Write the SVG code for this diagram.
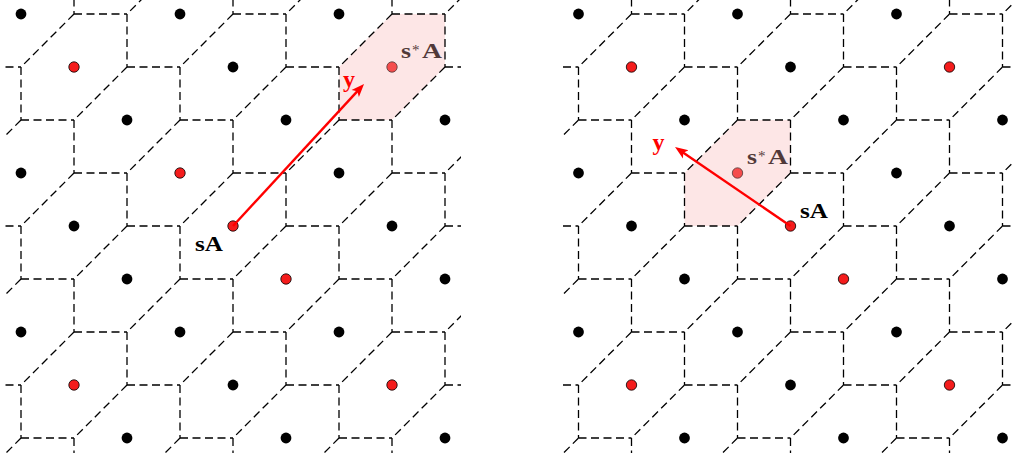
<svg xmlns="http://www.w3.org/2000/svg" width="1014" height="463" viewBox="0 0 1014 463">
<style>
.grid{fill:none;stroke:#000;stroke-width:1.3;stroke-dasharray:8 4.5}
.pt{fill:#000}
.rpt{fill:#f41c1c;stroke:#000;stroke-width:0.8}
.cell{fill:#f8b1b1;fill-opacity:0.32;stroke:none}
.vec{stroke:#f00;stroke-width:2.4;fill:none;marker-end:url(#ah)}
.lbl{font-family:"Liberation Serif","DejaVu Serif",serif;font-weight:bold;fill:#000;font-size:20px}
.ylbl{font-family:"Liberation Serif","DejaVu Serif",serif;font-weight:bold;fill:#f00;font-size:24px}
</style>
<defs>
<clipPath id="clipL"><rect x="5" y="-1" width="456" height="454"/></clipPath>
<clipPath id="clipR"><rect x="563" y="-1" width="451" height="454"/></clipPath>
<marker id="ah" markerUnits="userSpaceOnUse" markerWidth="14" markerHeight="12" viewBox="0 -6 14 12" refX="6" refY="0" orient="auto"><path d="M0,-5 L13,0 L0,5 L3,0z" fill="#f00"/></marker>
<path id="ce" d="M0,-53h53M53,-53v53M53,0l-53,53"/>
<g id="gridCells">
<use href="#ce" x="-32" y="-39"/><use href="#ce" x="127" y="-39"/><use href="#ce" x="286" y="-39"/><use href="#ce" x="445" y="-39"/>
<use href="#ce" x="21" y="14"/><use href="#ce" x="180" y="14"/><use href="#ce" x="339" y="14"/>
<use href="#ce" x="74" y="67"/><use href="#ce" x="233" y="67"/><use href="#ce" x="392" y="67"/>
<use href="#ce" x="-32" y="120"/><use href="#ce" x="127" y="120"/><use href="#ce" x="286" y="120"/><use href="#ce" x="445" y="120"/>
<use href="#ce" x="21" y="173"/><use href="#ce" x="180" y="173"/><use href="#ce" x="339" y="173"/>
<use href="#ce" x="74" y="226"/><use href="#ce" x="233" y="226"/><use href="#ce" x="392" y="226"/>
<use href="#ce" x="-32" y="279"/><use href="#ce" x="127" y="279"/><use href="#ce" x="286" y="279"/><use href="#ce" x="445" y="279"/>
<use href="#ce" x="21" y="332"/><use href="#ce" x="180" y="332"/><use href="#ce" x="339" y="332"/>
<use href="#ce" x="74" y="385"/><use href="#ce" x="233" y="385"/><use href="#ce" x="392" y="385"/>
<use href="#ce" x="-32" y="438"/><use href="#ce" x="127" y="438"/><use href="#ce" x="286" y="438"/><use href="#ce" x="445" y="438"/>
<use href="#ce" x="21" y="491"/><use href="#ce" x="180" y="491"/><use href="#ce" x="339" y="491"/>
</g>
<g id="dots">
<circle class="pt" cx="21" cy="14" r="5.4"/><circle class="pt" cx="180" cy="14" r="5.4"/><circle class="pt" cx="339" cy="14" r="5.4"/>
<circle class="pt" cx="233" cy="67" r="5.4"/>
<circle class="pt" cx="127" cy="120" r="5.4"/><circle class="pt" cx="286" cy="120" r="5.4"/><circle class="pt" cx="445" cy="120" r="5.4"/>
<circle class="pt" cx="21" cy="173" r="5.4"/><circle class="pt" cx="339" cy="173" r="5.4"/>
<circle class="pt" cx="74" cy="226" r="5.4"/><circle class="pt" cx="392" cy="226" r="5.4"/>
<circle class="pt" cx="127" cy="279" r="5.4"/><circle class="pt" cx="445" cy="279" r="5.4"/>
<circle class="pt" cx="21" cy="332" r="5.4"/><circle class="pt" cx="180" cy="332" r="5.4"/><circle class="pt" cx="339" cy="332" r="5.4"/>
<circle class="pt" cx="233" cy="385" r="5.4"/>
<circle class="pt" cx="127" cy="438" r="5.4"/><circle class="pt" cx="286" cy="438" r="5.4"/><circle class="pt" cx="445" cy="438" r="5.4"/>
<circle class="rpt" cx="74" cy="67" r="5.2"/><circle class="rpt" cx="392" cy="67" r="5.2"/>
<circle class="rpt" cx="180" cy="173" r="5.2"/><circle class="rpt" cx="233" cy="226" r="5.2"/><circle class="rpt" cx="286" cy="279" r="5.2"/>
<circle class="rpt" cx="74" cy="385" r="5.2"/><circle class="rpt" cx="392" cy="385" r="5.2"/>
</g>
</defs>

<g id="panel-left">
<use href="#dots"/>
<g id="left-sstarA-label">
<text class="lbl" x="401" y="58" textLength="10" lengthAdjust="spacingAndGlyphs">s</text>
<text class="lbl" x="412" y="55" style="font-size:15px;font-weight:normal">*</text>
<text class="lbl" x="422" y="58" textLength="20" lengthAdjust="spacingAndGlyphs">A</text>
</g>
<polygon id="left-cell" class="cell" points="392,14 445,14 445,67 392,120 339,120 339,67"/>
<g id="left-grid" class="grid" clip-path="url(#clipL)"><use href="#gridCells"/></g>
<g id="left-connectors">
<line class="vec" x1="233" y1="226" x2="359.3" y2="89.1"/>
</g>
<text id="left-y" class="ylbl" x="343" y="87">y</text>
<text id="left-sA" class="lbl" x="195" y="251" textLength="28" lengthAdjust="spacingAndGlyphs">sA</text>
</g>

<g id="panel-right">
<use href="#dots" transform="translate(557.5,0)"/>
<g id="right-sstarA-label">
<text class="lbl" x="747" y="164" textLength="10" lengthAdjust="spacingAndGlyphs">s</text>
<text class="lbl" x="758" y="161" style="font-size:15px;font-weight:normal">*</text>
<text class="lbl" x="768" y="164" textLength="20" lengthAdjust="spacingAndGlyphs">A</text>
</g>
<polygon id="right-cell" class="cell" points="737.5,120 790.5,120 790.5,173 737.5,226 684.5,226 684.5,173"/>
<g id="right-grid" class="grid" clip-path="url(#clipR)"><use href="#gridCells" transform="translate(557.5,0)"/></g>
<g id="right-connectors">
<line class="vec" x1="790.5" y1="226" x2="680.8" y2="151"/>
</g>
<text id="right-y" class="ylbl" x="652.5" y="150">y</text>
<text id="right-sA" class="lbl" x="800" y="218" textLength="28" lengthAdjust="spacingAndGlyphs">sA</text>
</g>
</svg>
